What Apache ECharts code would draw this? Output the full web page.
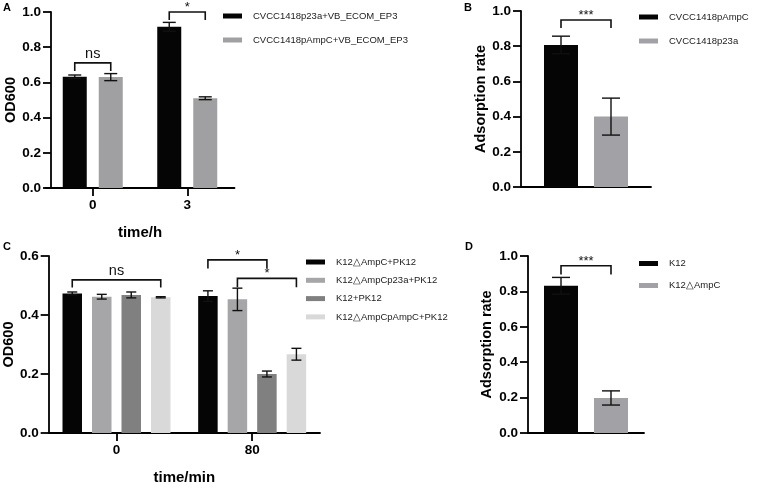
<!DOCTYPE html>
<html><head><meta charset="utf-8">
<script src="https://cdn.jsdelivr.net/npm/echarts@6/dist/echarts.min.js"></script>
<style>html,body{margin:0;padding:0;background:#fff}#c{width:758px;height:489px}</style>
</head><body><div id="c"></div>
<script>
// ---------- data ----------
const aCategories = ['0', '3'];
const aNames = ['CVCC1418p23a+VB_ECOM_EP3', 'CVCC1418pAmpC+VB_ECOM_EP3'];
const aP23a = [0.632, 0.916];
const aP23aErr = [0.010, 0.025];
const aPAmpC = [0.630, 0.510];
const aPAmpCErr = [0.020, 0.008];
// [category, fromBar, toBar, top, legEnd, label]
const aSig = [[0, 0, 1, 0.711, 0.665, 'ns'], [1, 0, 1, 1.0, 0.955, '*']];

const bCategories = [''];
const bNames = ['CVCC1418pAmpC', 'CVCC1418p23a'];
const bPAmpC = [0.807];
const bPAmpCErr = [0.050];
const bP23a = [0.400];
const bP23aErr = [0.105];
const bSig = [[0, 0, 1, 0.949, 0.903, '***']];

const cCategories = ['0', '80'];
const cNames = ['K12\u25B3AmpC+PK12', 'K12\u25B3AmpCp23a+PK12', 'K12+PK12', 'K12\u25B3AmpCpAmpC+PK12'];
const cAmpC = [0.473, 0.464];
const cAmpCErr = [0.005, 0.018];
const cAmpCp23a = [0.462, 0.453];
const cAmpCp23aErr = [0.008, 0.038];
const cK12 = [0.468, 0.200];
const cK12Err = [0.010, 0.010];
const cAmpCpAmpC = [0.460, 0.267];
const cAmpCpAmpCErr = [0.002, 0.020];
const cSig = [[0, 0, 3, 0.519, 0.493, 'ns'], [1, 0, 2, 0.587, 0.558, '*'], [1, 1, 3, 0.524, 0.494, '*']];

const dCategories = [''];
const dNames = ['K12', 'K12\u25B3AmpC'];
const dK12 = [0.832];
const dK12Err = [0.047];
const dAmpC = [0.198];
const dAmpCErr = [0.040];
const dSig = [[0, 0, 1, 0.945, 0.896, '***']];

// ---------- styling / layout ----------
const FONT = '"Liberation Sans", Arial, Helvetica, sans-serif';
const panels = [
  { grid: {left: 45.5, top: 12, width: 189, height: 176}, yMax: 1, yOffset: -5.5,
    cats: aCategories, names: aNames, values: [aP23a, aPAmpC], errs: [aP23aErr, aPAmpCErr],
    colors: ['#050505', '#a0a0a2'], barWidth: 24, gap: 12, cap: 13, sig: aSig,
    xName: 'time/h', yName: 'OD600', yNameGap: 31, xTicks: true,
    legend: {left: 223, top: 11, itemGap: 14} },
  { grid: {left: 521, top: 11, width: 130, height: 176}, yMax: 1, yOffset: 0,
    cats: bCategories, names: bNames, values: [bPAmpC, bP23a], errs: [bPAmpCErr, bP23aErr],
    colors: ['#050505', '#a2a1a6'], barWidth: 34, gap: 16, cap: 18, sig: bSig,
    xName: '', yName: 'Adsorption rate', yNameGap: 21, xTicks: false,
    legend: {left: 639, top: 12, itemGap: 14} },
  { grid: {left: 44, top: 256, width: 276, height: 177}, yMax: 0.6, yOffset: 0,
    cats: cCategories, names: cNames, values: [cAmpC, cAmpCp23a, cK12, cAmpCpAmpC],
    errs: [cAmpCErr, cAmpCp23aErr, cK12Err, cAmpCpAmpCErr],
    colors: ['#050505', '#a6a6a8', '#808080', '#d9d9d9'], barWidth: 19.5, gap: 10, cap: 10, sig: cSig,
    xName: 'time/min', yName: 'OD600', yNameGap: 28, xTicks: true,
    legend: {left: 306, top: 257, itemGap: 8.3} },
  { grid: {left: 528, top: 256, width: 116, height: 177}, yMax: 1, yOffset: 0,
    cats: dCategories, names: dNames, values: [dK12, dAmpC], errs: [dK12Err, dAmpCErr],
    colors: ['#050505', '#a2a1a6'], barWidth: 34, gap: 16, cap: 18, sig: dSig,
    xName: '', yName: 'Adsorption rate', yNameGap: 34, xTicks: false,
    legend: {left: 639, top: 258.5, itemGap: 12} }
];

function barOffset(p, i) {
  const n = p.values.length;
  const total = n * p.barWidth + (n - 1) * p.gap;
  return -total / 2 + p.barWidth / 2 + i * (p.barWidth + p.gap);
}

const grids = [], xAxes = [], yAxes = [], legends = [], series = [];
panels.forEach((p, k) => {
  grids.push(p.grid);
  xAxes.push({
    type: 'category', gridIndex: k, data: p.cats,
    name: p.xName, nameLocation: 'middle', nameGap: 37,
    nameTextStyle: {fontFamily: FONT, fontWeight: 'bold', fontSize: 15, color: '#000'},
    axisLine: {lineStyle: {color: '#000', width: 1.8}},
    axisTick: {show: p.xTicks, alignWithLabel: true, length: 8, lineStyle: {color: '#000', width: 1.8}},
    axisLabel: {show: p.xTicks, fontFamily: FONT, fontWeight: 'bold', fontSize: 13.5, color: '#000', margin: 10},
    splitLine: {show: false}
  });
  yAxes.push({
    type: 'value', gridIndex: k, min: 0, max: p.yMax, interval: 0.2, offset: p.yOffset,
    name: p.yName, nameLocation: 'middle', nameGap: p.yNameGap,
    nameTextStyle: {fontFamily: FONT, fontWeight: 'bold', fontSize: 14.5, color: '#000'},
    axisLine: {show: true, lineStyle: {color: '#000', width: 1.8}},
    axisTick: {show: true, length: 8, lineStyle: {color: '#000', width: 1.8}},
    axisLabel: {fontFamily: FONT, fontWeight: 'bold', fontSize: 13.5, color: '#000', margin: 10,
      formatter: v => v.toFixed(1)},
    splitLine: {show: false}
  });
  legends.push({
    data: p.names, orient: 'vertical', left: p.legend.left, top: p.legend.top,
    padding: 0, itemGap: p.legend.itemGap, itemWidth: 19, itemHeight: 5, icon: 'rect',
    selectedMode: false,
    textStyle: {fontFamily: FONT, fontSize: 9.5, color: '#222', padding: [0, 0, 0, 6]}
  });
  p.values.forEach((vals, i) => {
    series.push({
      type: 'bar', name: p.names[i], xAxisIndex: k, yAxisIndex: k,
      data: vals, barWidth: p.barWidth, barGap: (p.gap / p.barWidth * 100) + '%',
      itemStyle: {color: p.colors[i]}, emphasis: {disabled: true}, animation: false
    });
  });
  // error bars
  const errData = [];
  p.values.forEach((vals, i) => vals.forEach((v, j) => errData.push([j, v, p.errs[i][j], i])));
  series.push({
    type: 'custom', xAxisIndex: k, yAxisIndex: k, data: errData, z: 5, animation: false,
    silent: true,
    renderItem: (params, api) => {
      const d = errData[params.dataIndex];
      const c = api.coord([d[0], d[1]]);
      const x = c[0] + barOffset(p, d[3]);
      const yt = api.coord([d[0], d[1] + d[2]])[1];
      const yb = api.coord([d[0], d[1] - d[2]])[1];
      const h = p.cap / 2;
      const st = {stroke: '#111', lineWidth: 1.4};
      return {type: 'group', children: [
        {type: 'line', shape: {x1: x, y1: yt, x2: x, y2: yb}, style: st},
        {type: 'line', shape: {x1: x - h, y1: yt, x2: x + h, y2: yt}, style: st},
        {type: 'line', shape: {x1: x - h, y1: yb, x2: x + h, y2: yb}, style: st}
      ]};
    }
  });
  // significance brackets
  series.push({
    type: 'custom', xAxisIndex: k, yAxisIndex: k, data: p.sig.map(s => [s[0], s[3]]), z: 6,
    animation: false, silent: true, clip: false,
    renderItem: (params, api) => {
      const s = p.sig[params.dataIndex];
      const base = api.coord([s[0], s[3]]);
      const x1 = base[0] + barOffset(p, s[1]);
      const x2 = base[0] + barOffset(p, s[2]);
      const yTop = base[1];
      const yLeg = api.coord([s[0], s[4]])[1];
      const isNs = s[5] === 'ns';
      return {type: 'group', children: [
        {type: 'polyline', shape: {points: [[x1, yLeg], [x1, yTop], [x2, yTop], [x2, yLeg]]},
          style: {stroke: '#111', lineWidth: 1.6, fill: null}},
        {type: 'text', x: (x1 + x2) / 2, y: yTop - (isNs ? 9 : 4.5),
          style: {text: s[5], fontFamily: FONT, fontSize: isNs ? 14.5 : 13, fill: '#111',
            align: 'center', verticalAlign: 'middle'}}
      ]};
    }
  });
});

const panelLabels = [['A', 3, 2], ['B', 464, 2], ['C', 3, 241], ['D', 465, 241]];
const chart = echarts.init(document.getElementById('c'), null, {renderer: 'canvas'});
chart.setOption({
  backgroundColor: '#fff',
  animation: false,
  grid: grids, xAxis: xAxes, yAxis: yAxes, legend: legends, series: series,
  graphic: panelLabels.map(l => ({type: 'text', left: l[1], top: l[2],
    style: {text: l[0], fontFamily: FONT, fontWeight: 'bold', fontSize: 11, fill: '#000'}}))
});
</script></body></html>
